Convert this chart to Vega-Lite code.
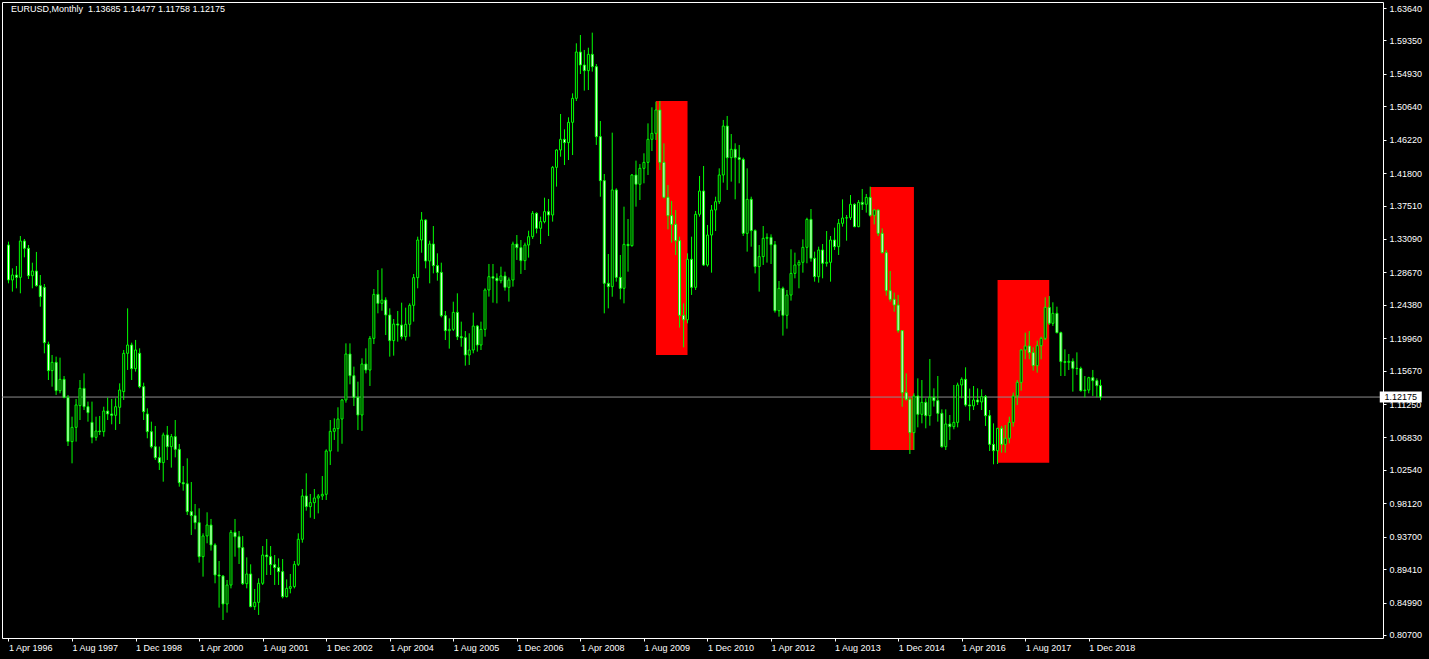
{
"$schema":"https://vega.github.io/schema/vega-lite/v6.json",
"width":1381,"height":636,
"autosize":"none",
"padding":{"left":2,"top":2,"right":46,"bottom":21},
"background":"black",
"config":{"view":{"stroke":"white","strokeWidth":1},"axis":{"labelFont":"Liberation Sans","labelFontSize":9,"labelColor":"white","tickColor":"white","domain":false,"grid":false,"title":null}},
"datasets":{
"rects":[
{"t1":"2009-11-01","t2":"2010-07-01","p1":1.1774,"p2":1.5134},
{"t1":"2014-05-01","t2":"2015-04-01","p1":1.0517,"p2":1.3996},
{"t1":"2017-01-01","t2":"2018-02-01","p1":1.0350,"p2":1.2766}],
"bid":[{"p":1.12175}],
"candles":[
{"d":"1996-04-01","o":1.3229,"h":1.3273,"l":1.2722,"c":1.2766},
{"d":"1996-05-01","o":1.2766,"h":1.2920,"l":1.2612,"c":1.2832},
{"d":"1996-06-01","o":1.2832,"h":1.2951,"l":1.2656,"c":1.2801},
{"d":"1996-07-01","o":1.2801,"h":1.3348,"l":1.2590,"c":1.3282},
{"d":"1996-08-01","o":1.3282,"h":1.3308,"l":1.3066,"c":1.3185},
{"d":"1996-09-01","o":1.3185,"h":1.3229,"l":1.2779,"c":1.2823},
{"d":"1996-10-01","o":1.2823,"h":1.2995,"l":1.2656,"c":1.2885},
{"d":"1996-11-01","o":1.2885,"h":1.3137,"l":1.2678,"c":1.2691},
{"d":"1996-12-01","o":1.2691,"h":1.2832,"l":1.2413,"c":1.2546},
{"d":"1997-01-01","o":1.2669,"h":1.2713,"l":1.1796,"c":1.1937},
{"d":"1997-02-01","o":1.1915,"h":1.1950,"l":1.1443,"c":1.1567},
{"d":"1997-03-01","o":1.1567,"h":1.1774,"l":1.1355,"c":1.1677},
{"d":"1997-04-01","o":1.1677,"h":1.1752,"l":1.1245,"c":1.1302},
{"d":"1997-05-01","o":1.1302,"h":1.1739,"l":1.1267,"c":1.1452},
{"d":"1997-06-01","o":1.1452,"h":1.1496,"l":1.1201,"c":1.1214},
{"d":"1997-07-01","o":1.1210,"h":1.1245,"l":1.0570,"c":1.0628},
{"d":"1997-08-01","o":1.0628,"h":1.0958,"l":1.0341,"c":1.0817},
{"d":"1997-09-01","o":1.0817,"h":1.1192,"l":1.0628,"c":1.1113},
{"d":"1997-10-01","o":1.1104,"h":1.1443,"l":1.0914,"c":1.1333},
{"d":"1997-11-01","o":1.1333,"h":1.1531,"l":1.1046,"c":1.1090},
{"d":"1997-12-01","o":1.1090,"h":1.1157,"l":1.0892,"c":1.1011},
{"d":"1998-01-01","o":1.0883,"h":1.1157,"l":1.0606,"c":1.0685},
{"d":"1998-02-01","o":1.0685,"h":1.0958,"l":1.0641,"c":1.0769},
{"d":"1998-03-01","o":1.0769,"h":1.0967,"l":1.0716,"c":1.0760},
{"d":"1998-04-01","o":1.0760,"h":1.1090,"l":1.0694,"c":1.1033},
{"d":"1998-05-01","o":1.1033,"h":1.1210,"l":1.0914,"c":1.0994},
{"d":"1998-06-01","o":1.0994,"h":1.1192,"l":1.0857,"c":1.0976},
{"d":"1998-07-01","o":1.0976,"h":1.1201,"l":1.0782,"c":1.1090},
{"d":"1998-08-01","o":1.1082,"h":1.1399,"l":1.0861,"c":1.1311},
{"d":"1998-09-01","o":1.1289,"h":1.1840,"l":1.1179,"c":1.1796},
{"d":"1998-10-01","o":1.1796,"h":1.2391,"l":1.1576,"c":1.1906},
{"d":"1998-11-01","o":1.1906,"h":1.1937,"l":1.1443,"c":1.1593},
{"d":"1998-12-01","o":1.1593,"h":1.1973,"l":1.1554,"c":1.1840},
{"d":"1999-01-01","o":1.1796,"h":1.1862,"l":1.1333,"c":1.1355},
{"d":"1999-02-01","o":1.1355,"h":1.1408,"l":1.0914,"c":1.1024},
{"d":"1999-03-01","o":1.0994,"h":1.1069,"l":1.0672,"c":1.0760},
{"d":"1999-04-01","o":1.0760,"h":1.0892,"l":1.0539,"c":1.0561},
{"d":"1999-05-01","o":1.0561,"h":1.0835,"l":1.0385,"c":1.0416},
{"d":"1999-06-01","o":1.0416,"h":1.0562,"l":1.0253,"c":1.0350},
{"d":"1999-07-01","o":1.0350,"h":1.0747,"l":1.0098,"c":1.0716},
{"d":"1999-08-01","o":1.0716,"h":1.0835,"l":1.0385,"c":1.0561},
{"d":"1999-09-01","o":1.0561,"h":1.0729,"l":1.0284,"c":1.0694},
{"d":"1999-10-01","o":1.0694,"h":1.0914,"l":1.0420,"c":1.0526},
{"d":"1999-11-01","o":1.0526,"h":1.0597,"l":1.0032,"c":1.0085},
{"d":"1999-12-01","o":1.0085,"h":1.0306,"l":0.9979,"c":1.0070},
{"d":"2000-01-01","o":1.0070,"h":1.0407,"l":0.9657,"c":0.9702},
{"d":"2000-02-01","o":0.9702,"h":1.0094,"l":0.9393,"c":0.9649},
{"d":"2000-03-01","o":0.9649,"h":0.9803,"l":0.9468,"c":0.9556},
{"d":"2000-04-01","o":0.9556,"h":0.9746,"l":0.9027,"c":0.9106},
{"d":"2000-05-01","o":0.9106,"h":0.9415,"l":0.8842,"c":0.9380},
{"d":"2000-06-01","o":0.9380,"h":0.9693,"l":0.9283,"c":0.9525},
{"d":"2000-07-01","o":0.9525,"h":0.9605,"l":0.9186,"c":0.9261},
{"d":"2000-08-01","o":0.9261,"h":0.9283,"l":0.8754,"c":0.8864},
{"d":"2000-09-01","o":0.8864,"h":0.9049,"l":0.8432,"c":0.8850},
{"d":"2000-10-01","o":0.8850,"h":0.8864,"l":0.8269,"c":0.8480},
{"d":"2000-11-01","o":0.8480,"h":0.8798,"l":0.8366,"c":0.8731},
{"d":"2000-12-01","o":0.8731,"h":0.9459,"l":0.8687,"c":0.9428},
{"d":"2001-01-01","o":0.9428,"h":0.9605,"l":0.9106,"c":0.9370},
{"d":"2001-02-01","o":0.9370,"h":0.9446,"l":0.9009,"c":0.9225},
{"d":"2001-03-01","o":0.9225,"h":0.9380,"l":0.8732,"c":0.8749},
{"d":"2001-04-01","o":0.8749,"h":0.9097,"l":0.8687,"c":0.8877},
{"d":"2001-05-01","o":0.8877,"h":0.9005,"l":0.8436,"c":0.8445},
{"d":"2001-06-01","o":0.8445,"h":0.8679,"l":0.8401,"c":0.8502},
{"d":"2001-07-01","o":0.8502,"h":0.8820,"l":0.8335,"c":0.8754},
{"d":"2001-08-01","o":0.8754,"h":0.9247,"l":0.8732,"c":0.9128},
{"d":"2001-09-01","o":0.9128,"h":0.9340,"l":0.8864,"c":0.9106},
{"d":"2001-10-01","o":0.9106,"h":0.9247,"l":0.8864,"c":0.9000},
{"d":"2001-11-01","o":0.9000,"h":0.9128,"l":0.8732,"c":0.8961},
{"d":"2001-12-01","o":0.8961,"h":0.9084,"l":0.8732,"c":0.8908},
{"d":"2002-01-01","o":0.8908,"h":0.9075,"l":0.8555,"c":0.8577},
{"d":"2002-02-01","o":0.8577,"h":0.8806,"l":0.8568,"c":0.8687},
{"d":"2002-03-01","o":0.8687,"h":0.8877,"l":0.8621,"c":0.8710},
{"d":"2002-04-01","o":0.8710,"h":0.9049,"l":0.8687,"c":0.9005},
{"d":"2002-05-01","o":0.9005,"h":0.9415,"l":0.8983,"c":0.9336},
{"d":"2002-06-01","o":0.9336,"h":1.0001,"l":0.9291,"c":0.9909},
{"d":"2002-07-01","o":0.9909,"h":1.0209,"l":0.9715,"c":0.9768},
{"d":"2002-08-01","o":0.9768,"h":0.9935,"l":0.9622,"c":0.9821},
{"d":"2002-09-01","o":0.9821,"h":1.0001,"l":0.9605,"c":0.9882},
{"d":"2002-10-01","o":0.9882,"h":0.9935,"l":0.9679,"c":0.9909},
{"d":"2002-11-01","o":0.9909,"h":1.0173,"l":0.9856,"c":0.9931},
{"d":"2002-12-01","o":0.9931,"h":1.0526,"l":0.9856,"c":1.0504},
{"d":"2003-01-01","o":1.0504,"h":1.0914,"l":1.0319,"c":1.0764},
{"d":"2003-02-01","o":1.0764,"h":1.0936,"l":1.0650,"c":1.0800},
{"d":"2003-03-01","o":1.0800,"h":1.1082,"l":1.0495,"c":1.0927},
{"d":"2003-04-01","o":1.0927,"h":1.1192,"l":1.0600,"c":1.1179},
{"d":"2003-05-01","o":1.1179,"h":1.1928,"l":1.1143,"c":1.1787},
{"d":"2003-06-01","o":1.1787,"h":1.1928,"l":1.1386,"c":1.1500},
{"d":"2003-07-01","o":1.1500,"h":1.1620,"l":1.1099,"c":1.1214},
{"d":"2003-08-01","o":1.1214,"h":1.1421,"l":1.0782,"c":1.0980},
{"d":"2003-09-01","o":1.0980,"h":1.1730,"l":1.0770,"c":1.1655},
{"d":"2003-10-01","o":1.1655,"h":1.1862,"l":1.1531,"c":1.1575},
{"d":"2003-11-01","o":1.1575,"h":1.2025,"l":1.1364,"c":1.1994},
{"d":"2003-12-01","o":1.1994,"h":1.2647,"l":1.1919,"c":1.2576},
{"d":"2004-01-01","o":1.2576,"h":1.2898,"l":1.2325,"c":1.2457},
{"d":"2004-02-01","o":1.2457,"h":1.2920,"l":1.2360,"c":1.2501},
{"d":"2004-03-01","o":1.2501,"h":1.2537,"l":1.2038,"c":1.2303},
{"d":"2004-04-01","o":1.2303,"h":1.2391,"l":1.1752,"c":1.1964},
{"d":"2004-05-01","o":1.1964,"h":1.2250,"l":1.1765,"c":1.2184},
{"d":"2004-06-01","o":1.2184,"h":1.2356,"l":1.1950,"c":1.2170},
{"d":"2004-07-01","o":1.2170,"h":1.2466,"l":1.1981,"c":1.2016},
{"d":"2004-08-01","o":1.2016,"h":1.2400,"l":1.1964,"c":1.2180},
{"d":"2004-09-01","o":1.2180,"h":1.2457,"l":1.2016,"c":1.2431},
{"d":"2004-10-01","o":1.2431,"h":1.2845,"l":1.2215,"c":1.2797},
{"d":"2004-11-01","o":1.2797,"h":1.3339,"l":1.2656,"c":1.3295},
{"d":"2004-12-01","o":1.3295,"h":1.3665,"l":1.3127,"c":1.3560},
{"d":"2005-01-01","o":1.3560,"h":1.3568,"l":1.2920,"c":1.3017},
{"d":"2005-02-01","o":1.3017,"h":1.3286,"l":1.2722,"c":1.3242},
{"d":"2005-03-01","o":1.3242,"h":1.3480,"l":1.2854,"c":1.2956},
{"d":"2005-04-01","o":1.2956,"h":1.3119,"l":1.2757,"c":1.2867},
{"d":"2005-05-01","o":1.2867,"h":1.2995,"l":1.2272,"c":1.2294},
{"d":"2005-06-01","o":1.2294,"h":1.2356,"l":1.1972,"c":1.2096},
{"d":"2005-07-01","o":1.2096,"h":1.2259,"l":1.1858,"c":1.2113},
{"d":"2005-08-01","o":1.2113,"h":1.2479,"l":1.2091,"c":1.2338},
{"d":"2005-09-01","o":1.2338,"h":1.2590,"l":1.1972,"c":1.2016},
{"d":"2005-10-01","o":1.2016,"h":1.2215,"l":1.1884,"c":1.2003},
{"d":"2005-11-01","o":1.2003,"h":1.2091,"l":1.1633,"c":1.1774},
{"d":"2005-12-01","o":1.1774,"h":1.2061,"l":1.1642,"c":1.1840},
{"d":"2006-01-01","o":1.1840,"h":1.2334,"l":1.1796,"c":1.2157},
{"d":"2006-02-01","o":1.2157,"h":1.2171,"l":1.1818,"c":1.1906},
{"d":"2006-03-01","o":1.1906,"h":1.2215,"l":1.1840,"c":1.2113},
{"d":"2006-04-01","o":1.2113,"h":1.2656,"l":1.2016,"c":1.2634},
{"d":"2006-05-01","o":1.2634,"h":1.2978,"l":1.2546,"c":1.2810},
{"d":"2006-06-01","o":1.2810,"h":1.2978,"l":1.2466,"c":1.2790},
{"d":"2006-07-01","o":1.2790,"h":1.2854,"l":1.2457,"c":1.2757},
{"d":"2006-08-01","o":1.2757,"h":1.2942,"l":1.2722,"c":1.2819},
{"d":"2006-09-01","o":1.2819,"h":1.2876,"l":1.2625,"c":1.2669},
{"d":"2006-10-01","o":1.2669,"h":1.2800,"l":1.2480,"c":1.2766},
{"d":"2006-11-01","o":1.2766,"h":1.3273,"l":1.2678,"c":1.3242},
{"d":"2006-12-01","o":1.3242,"h":1.3361,"l":1.3031,"c":1.3194},
{"d":"2007-01-01","o":1.3194,"h":1.3295,"l":1.2846,"c":1.3022},
{"d":"2007-02-01","o":1.3022,"h":1.3260,"l":1.2898,"c":1.3229},
{"d":"2007-03-01","o":1.3229,"h":1.3418,"l":1.3062,"c":1.3339},
{"d":"2007-04-01","o":1.3339,"h":1.3679,"l":1.3309,"c":1.3648},
{"d":"2007-05-01","o":1.3648,"h":1.3661,"l":1.3383,"c":1.3450},
{"d":"2007-06-01","o":1.3450,"h":1.3604,"l":1.3242,"c":1.3538},
{"d":"2007-07-01","o":1.3538,"h":1.3855,"l":1.3516,"c":1.3670},
{"d":"2007-08-01","o":1.3670,"h":1.3838,"l":1.3348,"c":1.3626},
{"d":"2007-09-01","o":1.3626,"h":1.4274,"l":1.3538,"c":1.4256},
{"d":"2007-10-01","o":1.4256,"h":1.4494,"l":1.4001,"c":1.4486},
{"d":"2007-11-01","o":1.4486,"h":1.4962,"l":1.4397,"c":1.4627},
{"d":"2007-12-01","o":1.4627,"h":1.4759,"l":1.4287,"c":1.4583},
{"d":"2008-01-01","o":1.4583,"h":1.4918,"l":1.4353,"c":1.4852},
{"d":"2008-02-01","o":1.4852,"h":1.5235,"l":1.4419,"c":1.5169},
{"d":"2008-03-01","o":1.5169,"h":1.5897,"l":1.5134,"c":1.5782},
{"d":"2008-04-01","o":1.5782,"h":1.6007,"l":1.5491,"c":1.5610},
{"d":"2008-05-01","o":1.5610,"h":1.5809,"l":1.5271,"c":1.5535},
{"d":"2008-06-01","o":1.5535,"h":1.5839,"l":1.5279,"c":1.5751},
{"d":"2008-07-01","o":1.5751,"h":1.6038,"l":1.5522,"c":1.5588},
{"d":"2008-08-01","o":1.5588,"h":1.5623,"l":1.4552,"c":1.4662},
{"d":"2008-09-01","o":1.4662,"h":1.4869,"l":1.3868,"c":1.4080},
{"d":"2008-10-01","o":1.4080,"h":1.4168,"l":1.2325,"c":1.2722},
{"d":"2008-11-01","o":1.2722,"h":1.3110,"l":1.2391,"c":1.2678},
{"d":"2008-12-01","o":1.2678,"h":1.4715,"l":1.2545,"c":1.3957},
{"d":"2009-01-01","o":1.3957,"h":1.3979,"l":1.2744,"c":1.2801},
{"d":"2009-02-01","o":1.2801,"h":1.3097,"l":1.2510,"c":1.2656},
{"d":"2009-03-01","o":1.2656,"h":1.3736,"l":1.2457,"c":1.3238},
{"d":"2009-04-01","o":1.3238,"h":1.3573,"l":1.2876,"c":1.3220},
{"d":"2009-05-01","o":1.3220,"h":1.4168,"l":1.3207,"c":1.4155},
{"d":"2009-06-01","o":1.4155,"h":1.4345,"l":1.3736,"c":1.4032},
{"d":"2009-07-01","o":1.4032,"h":1.4300,"l":1.3824,"c":1.4243},
{"d":"2009-08-01","o":1.4243,"h":1.4442,"l":1.4045,"c":1.4322},
{"d":"2009-09-01","o":1.4322,"h":1.4838,"l":1.4155,"c":1.4627},
{"d":"2009-10-01","o":1.4627,"h":1.5050,"l":1.4472,"c":1.4706},
{"d":"2009-11-01","o":1.4706,"h":1.5125,"l":1.4618,"c":1.5015},
{"d":"2009-12-01","o":1.5015,"h":1.5134,"l":1.4221,"c":1.4322},
{"d":"2010-01-01","o":1.4322,"h":1.4574,"l":1.3846,"c":1.3860},
{"d":"2010-02-01","o":1.3860,"h":1.4023,"l":1.3436,"c":1.3617},
{"d":"2010-03-01","o":1.3617,"h":1.3811,"l":1.3260,"c":1.3502},
{"d":"2010-04-01","o":1.3502,"h":1.3692,"l":1.3097,"c":1.3286},
{"d":"2010-05-01","o":1.3286,"h":1.3339,"l":1.2136,"c":1.2299},
{"d":"2010-06-01","o":1.2299,"h":1.2457,"l":1.1875,"c":1.2240},
{"d":"2010-07-01","o":1.2240,"h":1.3119,"l":1.2193,"c":1.3040},
{"d":"2010-08-01","o":1.3040,"h":1.3339,"l":1.2568,"c":1.2669},
{"d":"2010-09-01","o":1.2669,"h":1.3679,"l":1.2634,"c":1.3635},
{"d":"2010-10-01","o":1.3635,"h":1.4142,"l":1.3604,"c":1.3943},
{"d":"2010-11-01","o":1.3943,"h":1.4274,"l":1.2951,"c":1.2964},
{"d":"2010-12-01","o":1.2964,"h":1.3494,"l":1.2943,"c":1.3361},
{"d":"2011-01-01","o":1.3361,"h":1.3758,"l":1.2863,"c":1.3692},
{"d":"2011-02-01","o":1.3692,"h":1.3868,"l":1.3414,"c":1.3802},
{"d":"2011-03-01","o":1.3802,"h":1.4243,"l":1.3771,"c":1.4155},
{"d":"2011-04-01","o":1.4155,"h":1.4883,"l":1.4054,"c":1.4803},
{"d":"2011-05-01","o":1.4803,"h":1.4936,"l":1.3957,"c":1.4384},
{"d":"2011-06-01","o":1.4384,"h":1.4697,"l":1.4067,"c":1.4495},
{"d":"2011-07-01","o":1.4495,"h":1.4574,"l":1.3833,"c":1.4384},
{"d":"2011-08-01","o":1.4384,"h":1.4552,"l":1.4045,"c":1.4360},
{"d":"2011-09-01","o":1.4360,"h":1.4384,"l":1.3348,"c":1.3383},
{"d":"2011-10-01","o":1.3383,"h":1.4243,"l":1.3141,"c":1.3833},
{"d":"2011-11-01","o":1.3833,"h":1.3868,"l":1.3207,"c":1.3419},
{"d":"2011-12-01","o":1.3419,"h":1.3436,"l":1.2854,"c":1.2943},
{"d":"2012-01-01","o":1.2943,"h":1.3229,"l":1.2612,"c":1.3075},
{"d":"2012-02-01","o":1.3075,"h":1.3480,"l":1.2965,"c":1.3317},
{"d":"2012-03-01","o":1.3317,"h":1.3383,"l":1.2996,"c":1.3330},
{"d":"2012-04-01","o":1.3330,"h":1.3370,"l":1.2978,"c":1.3233},
{"d":"2012-05-01","o":1.3233,"h":1.3282,"l":1.2334,"c":1.2360},
{"d":"2012-06-01","o":1.2360,"h":1.2753,"l":1.2281,"c":1.2656},
{"d":"2012-07-01","o":1.2656,"h":1.2678,"l":1.2030,"c":1.2299},
{"d":"2012-08-01","o":1.2299,"h":1.2634,"l":1.2122,"c":1.2567},
{"d":"2012-09-01","o":1.2567,"h":1.3172,"l":1.2493,"c":1.2854},
{"d":"2012-10-01","o":1.2854,"h":1.3128,"l":1.2788,"c":1.2965},
{"d":"2012-11-01","o":1.2965,"h":1.3031,"l":1.2656,"c":1.3000},
{"d":"2012-12-01","o":1.3000,"h":1.3304,"l":1.2863,"c":1.3198},
{"d":"2013-01-01","o":1.3198,"h":1.3590,"l":1.2987,"c":1.3568},
{"d":"2013-02-01","o":1.3568,"h":1.3705,"l":1.3009,"c":1.3053},
{"d":"2013-03-01","o":1.3053,"h":1.3141,"l":1.2744,"c":1.2810},
{"d":"2013-04-01","o":1.2810,"h":1.3207,"l":1.2731,"c":1.3163},
{"d":"2013-05-01","o":1.3163,"h":1.3242,"l":1.2788,"c":1.2987},
{"d":"2013-06-01","o":1.2987,"h":1.3414,"l":1.2943,"c":1.3000},
{"d":"2013-07-01","o":1.3000,"h":1.3348,"l":1.2744,"c":1.3295},
{"d":"2013-08-01","o":1.3295,"h":1.3458,"l":1.3163,"c":1.3207},
{"d":"2013-09-01","o":1.3207,"h":1.3573,"l":1.3097,"c":1.3516},
{"d":"2013-10-01","o":1.3516,"h":1.3833,"l":1.3472,"c":1.3586},
{"d":"2013-11-01","o":1.3586,"h":1.3626,"l":1.3286,"c":1.3590},
{"d":"2013-12-01","o":1.3590,"h":1.3890,"l":1.3560,"c":1.3767},
{"d":"2014-01-01","o":1.3767,"h":1.3780,"l":1.3465,"c":1.3471},
{"d":"2014-02-01","o":1.3471,"h":1.3824,"l":1.3465,"c":1.3793},
{"d":"2014-03-01","o":1.3793,"h":1.3970,"l":1.3692,"c":1.3767},
{"d":"2014-04-01","o":1.3767,"h":1.3904,"l":1.3657,"c":1.3859},
{"d":"2014-05-01","o":1.3859,"h":1.4001,"l":1.3604,"c":1.3622},
{"d":"2014-06-01","o":1.3622,"h":1.3700,"l":1.3502,"c":1.3692},
{"d":"2014-07-01","o":1.3692,"h":1.3700,"l":1.3348,"c":1.3383},
{"d":"2014-08-01","o":1.3383,"h":1.3449,"l":1.3119,"c":1.3128},
{"d":"2014-09-01","o":1.3128,"h":1.3163,"l":1.2559,"c":1.2625},
{"d":"2014-10-01","o":1.2625,"h":1.2885,"l":1.2479,"c":1.2510},
{"d":"2014-11-01","o":1.2510,"h":1.2599,"l":1.2347,"c":1.2435},
{"d":"2014-12-01","o":1.2435,"h":1.2568,"l":1.2069,"c":1.2096},
{"d":"2015-01-01","o":1.2096,"h":1.2100,"l":1.1090,"c":1.1276},
{"d":"2015-02-01","o":1.1276,"h":1.1531,"l":1.1170,"c":1.1188},
{"d":"2015-03-01","o":1.1188,"h":1.1214,"l":1.0464,"c":1.0747},
{"d":"2015-04-01","o":1.0747,"h":1.1267,"l":1.0517,"c":1.1232},
{"d":"2015-05-01","o":1.1232,"h":1.1465,"l":1.0817,"c":1.0989},
{"d":"2015-06-01","o":1.0989,"h":1.1443,"l":1.0870,"c":1.1148},
{"d":"2015-07-01","o":1.1148,"h":1.1201,"l":1.0804,"c":1.0971},
{"d":"2015-08-01","o":1.0971,"h":1.1721,"l":1.0839,"c":1.1214},
{"d":"2015-09-01","o":1.1214,"h":1.1333,"l":1.1091,"c":1.1170},
{"d":"2015-10-01","o":1.1170,"h":1.1496,"l":1.0892,"c":1.1002},
{"d":"2015-11-01","o":1.1002,"h":1.1055,"l":1.0548,"c":1.0561},
{"d":"2015-12-01","o":1.0561,"h":1.1055,"l":1.0517,"c":1.0861},
{"d":"2016-01-01","o":1.0861,"h":1.0980,"l":1.0650,"c":1.0826},
{"d":"2016-02-01","o":1.0826,"h":1.1377,"l":1.0791,"c":1.0883},
{"d":"2016-03-01","o":1.0883,"h":1.1408,"l":1.0817,"c":1.1377},
{"d":"2016-04-01","o":1.1377,"h":1.1478,"l":1.1201,"c":1.1452},
{"d":"2016-05-01","o":1.1452,"h":1.1611,"l":1.1091,"c":1.1113},
{"d":"2016-06-01","o":1.1113,"h":1.1330,"l":1.0905,"c":1.1100},
{"d":"2016-07-01","o":1.1100,"h":1.1364,"l":1.1046,"c":1.1179},
{"d":"2016-08-01","o":1.1179,"h":1.1333,"l":1.1113,"c":1.1152},
{"d":"2016-09-01","o":1.1152,"h":1.1320,"l":1.1046,"c":1.1223},
{"d":"2016-10-01","o":1.1223,"h":1.1245,"l":1.0835,"c":1.0971},
{"d":"2016-11-01","o":1.0971,"h":1.1046,"l":1.0504,"c":1.0592},
{"d":"2016-12-01","o":1.0592,"h":1.0870,"l":1.0328,"c":1.0508},
{"d":"2017-01-01","o":1.0508,"h":1.0810,"l":1.0332,"c":1.0804},
{"d":"2017-02-01","o":1.0804,"h":1.0835,"l":1.0482,"c":1.0592},
{"d":"2017-03-01","o":1.0592,"h":1.0848,"l":1.0482,"c":1.0672},
{"d":"2017-04-01","o":1.0672,"h":1.0958,"l":1.0605,"c":1.0883},
{"d":"2017-05-01","o":1.0883,"h":1.1276,"l":1.0826,"c":1.1232},
{"d":"2017-06-01","o":1.1232,"h":1.1443,"l":1.1113,"c":1.1412},
{"d":"2017-07-01","o":1.1412,"h":1.1849,"l":1.1302,"c":1.1840},
{"d":"2017-08-01","o":1.1840,"h":1.2069,"l":1.1717,"c":1.1893},
{"d":"2017-09-01","o":1.1893,"h":1.2091,"l":1.1717,"c":1.1805},
{"d":"2017-10-01","o":1.1805,"h":1.1875,"l":1.1567,"c":1.1633},
{"d":"2017-11-01","o":1.1633,"h":1.1964,"l":1.1540,"c":1.1897},
{"d":"2017-12-01","o":1.1897,"h":1.2016,"l":1.1717,"c":1.1994},
{"d":"2018-01-01","o":1.1994,"h":1.2537,"l":1.1972,"c":1.2404},
{"d":"2018-02-01","o":1.2404,"h":1.2554,"l":1.2171,"c":1.2193},
{"d":"2018-03-01","o":1.2193,"h":1.2471,"l":1.2158,"c":1.2325},
{"d":"2018-04-01","o":1.2325,"h":1.2413,"l":1.2061,"c":1.2069},
{"d":"2018-05-01","o":1.2069,"h":1.2083,"l":1.1496,"c":1.1686},
{"d":"2018-06-01","o":1.1686,"h":1.1849,"l":1.1496,"c":1.1677},
{"d":"2018-07-01","o":1.1677,"h":1.1787,"l":1.1576,"c":1.1690},
{"d":"2018-08-01","o":1.1690,"h":1.1730,"l":1.1289,"c":1.1598},
{"d":"2018-09-01","o":1.1598,"h":1.1809,"l":1.1510,"c":1.1595},
{"d":"2018-10-01","o":1.1595,"h":1.1620,"l":1.1289,"c":1.1302},
{"d":"2018-11-01","o":1.1302,"h":1.1496,"l":1.1214,"c":1.1310},
{"d":"2018-12-01","o":1.1310,"h":1.1486,"l":1.1267,"c":1.1474},
{"d":"2019-01-01","o":1.1474,"h":1.1576,"l":1.1232,"c":1.1434},
{"d":"2019-02-01","o":1.1434,"h":1.1465,"l":1.1214,"c":1.1368},
{"d":"2019-03-01","o":1.13685,"h":1.14477,"l":1.11758,"c":1.12175}
]},
"encoding":{
"x":{"type":"temporal","scale":{"type":"utc","domain":[{"year":1996,"month":3,"date":20,"hours":14,"utc":true},{"year":2024,"month":12,"date":25,"hours":14,"utc":true}]},
"axis":{"orient":"bottom","format":"%-d %b %Y","tickSize":3,"labelAlign":"left","labelPadding":2,"labelOverlap":false,"labelFlush":false,
"values":[{"year":1996,"month":4,"date":1,"utc":true},{"year":1997,"month":8,"date":1,"utc":true},{"year":1998,"month":12,"date":1,"utc":true},{"year":2000,"month":4,"date":1,"utc":true},{"year":2001,"month":8,"date":1,"utc":true},{"year":2002,"month":12,"date":1,"utc":true},{"year":2004,"month":4,"date":1,"utc":true},{"year":2005,"month":8,"date":1,"utc":true},{"year":2006,"month":12,"date":1,"utc":true},{"year":2008,"month":4,"date":1,"utc":true},{"year":2009,"month":8,"date":1,"utc":true},{"year":2010,"month":12,"date":1,"utc":true},{"year":2012,"month":4,"date":1,"utc":true},{"year":2013,"month":8,"date":1,"utc":true},{"year":2014,"month":12,"date":1,"utc":true},{"year":2016,"month":4,"date":1,"utc":true},{"year":2017,"month":8,"date":1,"utc":true},{"year":2018,"month":12,"date":1,"utc":true}]}},
"y":{"type":"quantitative","scale":{"type":"linear","domain":[0.80303,1.64434],"nice":false,"zero":false},
"axis":{"orient":"right","format":".5f","tickSize":3,"labelPadding":3,"labelOverlap":false,"labelFlush":false,
"values":[1.6364,1.5935,1.5493,1.5064,1.4622,1.418,1.3751,1.3309,1.2867,1.2438,1.1996,1.1567,1.1125,1.0683,1.0254,0.9812,0.937,0.8941,0.8499,0.807]}}
},
"layer":[
{"data":{"name":"rects"},"mark":{"type":"rect","color":"#ff0000"},
"encoding":{"x":{"field":"t1","type":"temporal"},"x2":{"field":"t2"},"y":{"field":"p1","type":"quantitative"},"y2":{"field":"p2"}}},
{"data":{"name":"bid"},"mark":{"type":"rule","color":"#8c8c8c","strokeWidth":1},
"encoding":{"y":{"field":"p","type":"quantitative"}}},
{"data":{"name":"candles"},"mark":{"type":"rule","color":"#00ff00","strokeWidth":1},
"encoding":{"x":{"field":"d","type":"temporal"},"y":{"field":"l","type":"quantitative"},"y2":{"field":"h"}}},
{"data":{"name":"candles"},"mark":{"type":"bar","size":2,"stroke":"#00ff00","strokeWidth":1},
"encoding":{"x":{"field":"d","type":"temporal"},"y":{"field":"o","type":"quantitative"},"y2":{"field":"c"},
"fill":{"condition":{"test":"datum.c < datum.o","value":"white"},"value":"black"}}},
{"data":{"name":"bid"},"mark":{"type":"tick","orient":"horizontal","size":42,"thickness":11,"color":"white","opacity":1},
"encoding":{"x":{"datum":{"year":2025,"month":6,"date":18,"utc":true},"type":"temporal"},"y":{"field":"p","type":"quantitative"}}},
{"data":{"name":"bid"},"mark":{"type":"text","color":"black","font":"Liberation Sans","fontSize":9,"align":"center","baseline":"middle"},
"encoding":{"x":{"datum":{"year":2025,"month":6,"date":18,"utc":true},"type":"temporal"},"y":{"field":"p","type":"quantitative"},"text":{"field":"p","type":"quantitative","format":".5f"}}},
{"data":{"values":[{}]},"mark":{"type":"text","color":"white","font":"Liberation Sans","fontSize":9,"align":"left","baseline":"middle"},
"encoding":{"x":{"datum":{"year":1996,"month":4,"date":20,"utc":true},"type":"temporal"},"y":{"datum":1.6351,"type":"quantitative"},"text":{"value":"EURUSD,Monthly\u00a0 1.13685 1.14477 1.11758 1.12175"}}}
]
}
